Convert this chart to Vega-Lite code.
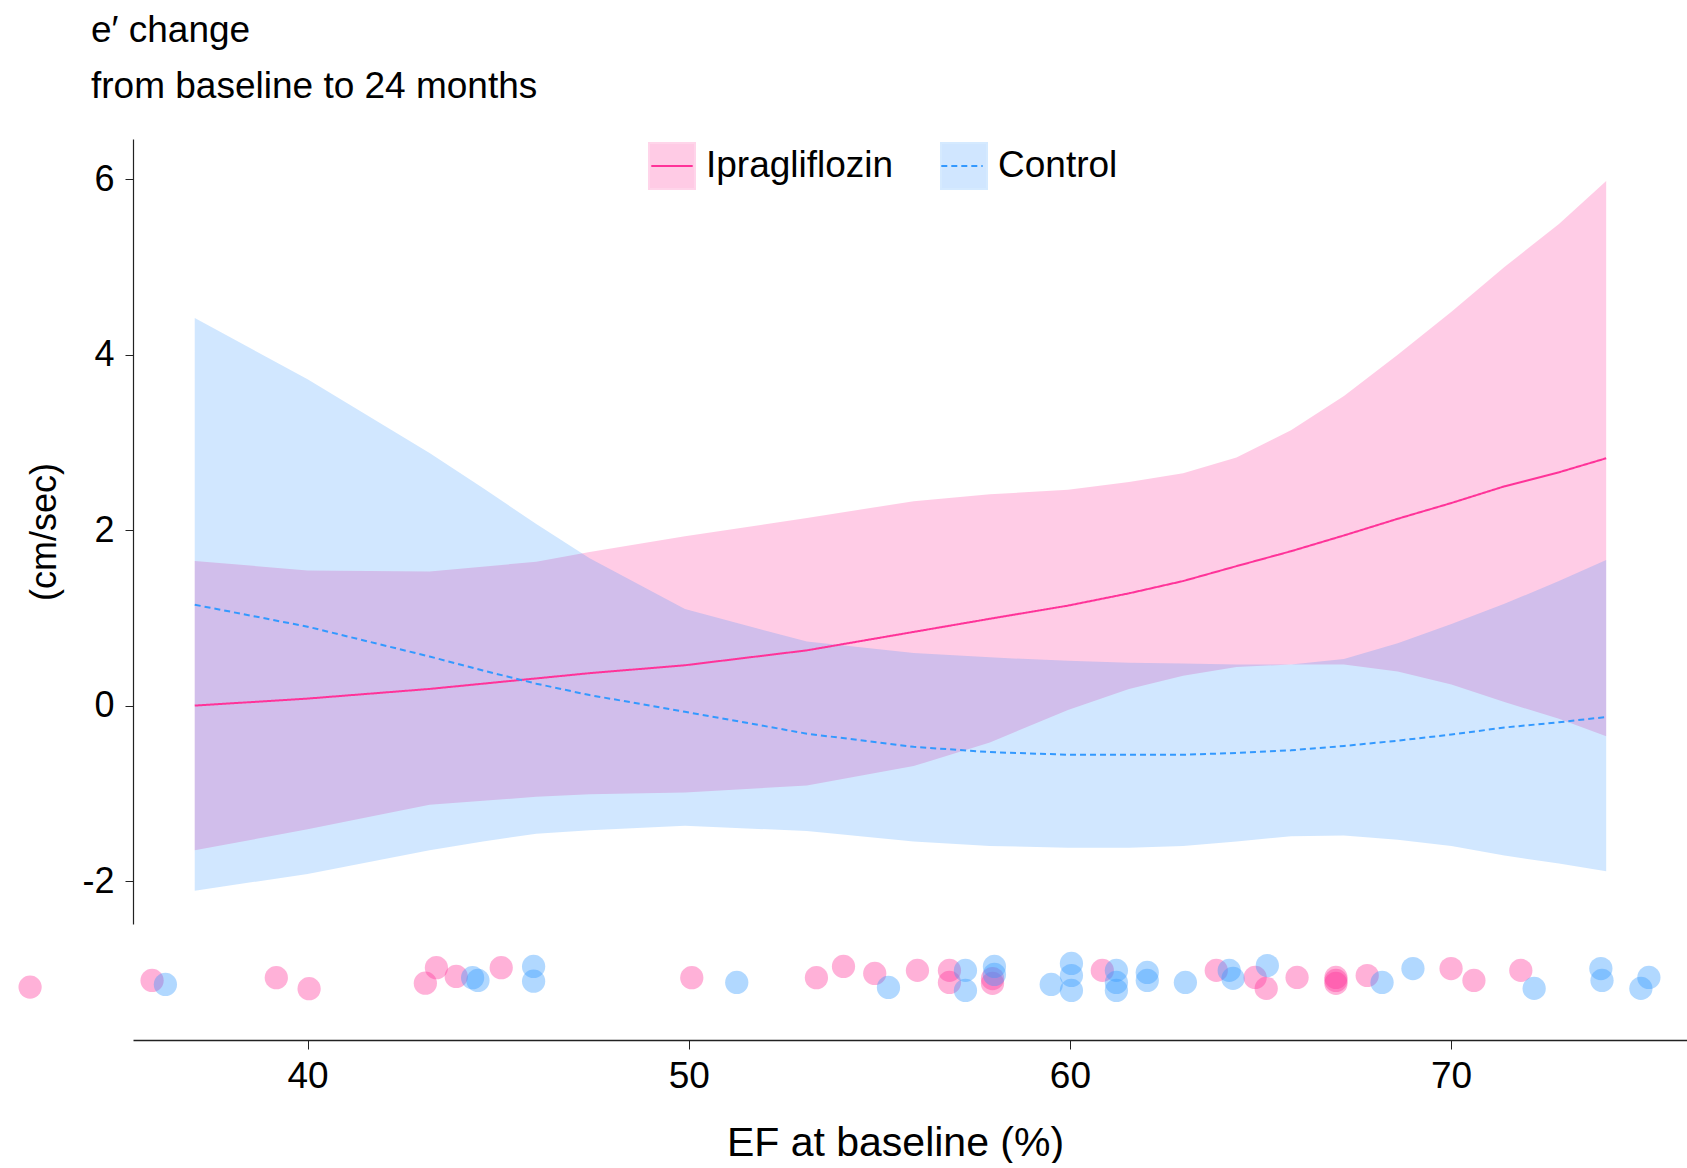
{
  "$schema": "https://vega.github.io/schema/vega-lite/v6.json",
  "padding": {"left": 18, "top": 12, "right": 0, "bottom": 0},
  "config": {
    "font": "Liberation Sans",
    "view": {"stroke": null},
    "axis": {"grid": false, "labelColor": "black", "titleColor": "black", "domainColor": "#222", "tickColor": "#222", "titleFontWeight": "normal", "labelFont": "Liberation Sans", "titleFont": "Liberation Sans"}
  },
  "title": {
    "text": ["e′ change", "from baseline to 24 months"],
    "anchor": "start", "frame": "group", "dx": -42,
    "fontSize": 37, "fontWeight": "normal", "font": "Liberation Sans",
    "lineHeight": 56, "offset": 33, "color": "black"
  },
  "datasets": {
    "curves": [
      {"group": "Ipragliflozin", "ef": 37.04, "fit": 0.0, "lo": -1.65, "hi": 1.65},
      {"group": "Ipragliflozin", "ef": 40.0, "fit": 0.08, "lo": -1.41, "hi": 1.54},
      {"group": "Ipragliflozin", "ef": 43.2, "fit": 0.19, "lo": -1.13, "hi": 1.53},
      {"group": "Ipragliflozin", "ef": 46.0, "fit": 0.31, "lo": -1.04, "hi": 1.64},
      {"group": "Ipragliflozin", "ef": 47.4, "fit": 0.37, "lo": -1.01, "hi": 1.75},
      {"group": "Ipragliflozin", "ef": 49.9, "fit": 0.46, "lo": -0.99, "hi": 1.93},
      {"group": "Ipragliflozin", "ef": 53.1, "fit": 0.63, "lo": -0.91, "hi": 2.14},
      {"group": "Ipragliflozin", "ef": 55.9, "fit": 0.84, "lo": -0.69, "hi": 2.33},
      {"group": "Ipragliflozin", "ef": 57.9, "fit": 0.99, "lo": -0.42, "hi": 2.41},
      {"group": "Ipragliflozin", "ef": 59.95, "fit": 1.14, "lo": -0.05, "hi": 2.46},
      {"group": "Ipragliflozin", "ef": 61.55, "fit": 1.28, "lo": 0.19, "hi": 2.55},
      {"group": "Ipragliflozin", "ef": 62.97, "fit": 1.42, "lo": 0.34, "hi": 2.65},
      {"group": "Ipragliflozin", "ef": 64.37, "fit": 1.59, "lo": 0.44, "hi": 2.83},
      {"group": "Ipragliflozin", "ef": 65.8, "fit": 1.76, "lo": 0.47, "hi": 3.14},
      {"group": "Ipragliflozin", "ef": 67.19, "fit": 1.94, "lo": 0.47, "hi": 3.53},
      {"group": "Ipragliflozin", "ef": 68.6, "fit": 2.13, "lo": 0.39, "hi": 4.0},
      {"group": "Ipragliflozin", "ef": 70.01, "fit": 2.31, "lo": 0.24, "hi": 4.49},
      {"group": "Ipragliflozin", "ef": 71.4, "fit": 2.5, "lo": 0.04, "hi": 5.0},
      {"group": "Ipragliflozin", "ef": 72.83, "fit": 2.66, "lo": -0.15, "hi": 5.49},
      {"group": "Ipragliflozin", "ef": 74.07, "fit": 2.82, "lo": -0.35, "hi": 5.98},
      {"group": "Control", "ef": 37.04, "fit": 1.15, "lo": -2.11, "hi": 4.42},
      {"group": "Control", "ef": 40.0, "fit": 0.9, "lo": -1.92, "hi": 3.72},
      {"group": "Control", "ef": 43.2, "fit": 0.56, "lo": -1.65, "hi": 2.88},
      {"group": "Control", "ef": 44.6, "fit": 0.4, "lo": -1.55, "hi": 2.48},
      {"group": "Control", "ef": 46.0, "fit": 0.25, "lo": -1.46, "hi": 2.07},
      {"group": "Control", "ef": 47.4, "fit": 0.12, "lo": -1.42, "hi": 1.68},
      {"group": "Control", "ef": 49.9, "fit": -0.07, "lo": -1.37, "hi": 1.1},
      {"group": "Control", "ef": 53.1, "fit": -0.32, "lo": -1.43, "hi": 0.73},
      {"group": "Control", "ef": 55.9, "fit": -0.47, "lo": -1.55, "hi": 0.6},
      {"group": "Control", "ef": 57.9, "fit": -0.53, "lo": -1.6, "hi": 0.55},
      {"group": "Control", "ef": 59.95, "fit": -0.56, "lo": -1.62, "hi": 0.51},
      {"group": "Control", "ef": 61.55, "fit": -0.56, "lo": -1.62, "hi": 0.49},
      {"group": "Control", "ef": 62.97, "fit": -0.56, "lo": -1.6, "hi": 0.48},
      {"group": "Control", "ef": 64.37, "fit": -0.54, "lo": -1.55, "hi": 0.47},
      {"group": "Control", "ef": 65.8, "fit": -0.51, "lo": -1.49, "hi": 0.47},
      {"group": "Control", "ef": 67.19, "fit": -0.46, "lo": -1.48, "hi": 0.53},
      {"group": "Control", "ef": 68.6, "fit": -0.4, "lo": -1.53, "hi": 0.71},
      {"group": "Control", "ef": 70.01, "fit": -0.33, "lo": -1.6, "hi": 0.93},
      {"group": "Control", "ef": 71.4, "fit": -0.25, "lo": -1.71, "hi": 1.16},
      {"group": "Control", "ef": 72.83, "fit": -0.19, "lo": -1.8, "hi": 1.42},
      {"group": "Control", "ef": 74.07, "fit": -0.13, "lo": -1.89, "hi": 1.66}
    ],
    "pts": [
      {"group": "Ipragliflozin", "ef": 32.72, "v": 0.456},
      {"group": "Ipragliflozin", "ef": 35.92, "v": 0.513},
      {"group": "Ipragliflozin", "ef": 39.18, "v": 0.537},
      {"group": "Ipragliflozin", "ef": 40.04, "v": 0.442},
      {"group": "Ipragliflozin", "ef": 43.09, "v": 0.49},
      {"group": "Ipragliflozin", "ef": 43.38, "v": 0.623},
      {"group": "Ipragliflozin", "ef": 43.9, "v": 0.548},
      {"group": "Ipragliflozin", "ef": 45.08, "v": 0.623},
      {"group": "Ipragliflozin", "ef": 50.08, "v": 0.537},
      {"group": "Ipragliflozin", "ef": 53.35, "v": 0.537},
      {"group": "Ipragliflozin", "ef": 54.06, "v": 0.634},
      {"group": "Ipragliflozin", "ef": 54.88, "v": 0.574},
      {"group": "Ipragliflozin", "ef": 56.0, "v": 0.6},
      {"group": "Ipragliflozin", "ef": 56.84, "v": 0.6},
      {"group": "Ipragliflozin", "ef": 56.84, "v": 0.496},
      {"group": "Ipragliflozin", "ef": 57.97, "v": 0.488},
      {"group": "Ipragliflozin", "ef": 57.97, "v": 0.53},
      {"group": "Ipragliflozin", "ef": 60.85, "v": 0.6},
      {"group": "Ipragliflozin", "ef": 63.84, "v": 0.6},
      {"group": "Ipragliflozin", "ef": 64.86, "v": 0.539},
      {"group": "Ipragliflozin", "ef": 65.15, "v": 0.445},
      {"group": "Ipragliflozin", "ef": 65.96, "v": 0.539},
      {"group": "Ipragliflozin", "ef": 66.98, "v": 0.539},
      {"group": "Ipragliflozin", "ef": 66.98, "v": 0.488},
      {"group": "Ipragliflozin", "ef": 66.98, "v": 0.513},
      {"group": "Ipragliflozin", "ef": 67.8, "v": 0.556},
      {"group": "Ipragliflozin", "ef": 70.0, "v": 0.616},
      {"group": "Ipragliflozin", "ef": 70.6, "v": 0.513},
      {"group": "Ipragliflozin", "ef": 71.83, "v": 0.6},
      {"group": "Control", "ef": 36.27, "v": 0.479},
      {"group": "Control", "ef": 44.33, "v": 0.537},
      {"group": "Control", "ef": 44.47, "v": 0.513},
      {"group": "Control", "ef": 45.93, "v": 0.634},
      {"group": "Control", "ef": 45.93, "v": 0.507},
      {"group": "Control", "ef": 51.26, "v": 0.496},
      {"group": "Control", "ef": 55.24, "v": 0.453},
      {"group": "Control", "ef": 57.26, "v": 0.6},
      {"group": "Control", "ef": 57.26, "v": 0.427},
      {"group": "Control", "ef": 58.02, "v": 0.634},
      {"group": "Control", "ef": 58.02, "v": 0.565},
      {"group": "Control", "ef": 59.51, "v": 0.479},
      {"group": "Control", "ef": 60.04, "v": 0.66},
      {"group": "Control", "ef": 60.04, "v": 0.556},
      {"group": "Control", "ef": 60.04, "v": 0.427},
      {"group": "Control", "ef": 61.22, "v": 0.6},
      {"group": "Control", "ef": 61.22, "v": 0.496},
      {"group": "Control", "ef": 61.22, "v": 0.427},
      {"group": "Control", "ef": 62.03, "v": 0.582},
      {"group": "Control", "ef": 62.03, "v": 0.513},
      {"group": "Control", "ef": 63.03, "v": 0.496},
      {"group": "Control", "ef": 64.18, "v": 0.6},
      {"group": "Control", "ef": 64.28, "v": 0.531},
      {"group": "Control", "ef": 65.18, "v": 0.642},
      {"group": "Control", "ef": 68.19, "v": 0.496},
      {"group": "Control", "ef": 69.0, "v": 0.616},
      {"group": "Control", "ef": 72.18, "v": 0.445},
      {"group": "Control", "ef": 73.93, "v": 0.616},
      {"group": "Control", "ef": 73.96, "v": 0.513},
      {"group": "Control", "ef": 74.98, "v": 0.445},
      {"group": "Control", "ef": 75.19, "v": 0.539}
    ]
  },
  "spacing": 0,
  "resolve": {"legend": {"fill": "independent", "stroke": "independent", "strokeDash": "independent", "color": "independent"}},
  "vconcat": [
    {
      "width": 1554,
      "height": 785,
      "data": {"name": "curves"},
      "encoding": {
        "x": {"field": "ef", "type": "quantitative", "scale": {"domain": [35.42, 76.19], "nice": false, "zero": false}, "axis": null}
      },
      "layer": [
        {
          "mark": {"type": "area", "opacity": 0.2},
          "encoding": {
            "y": {"field": "lo", "type": "quantitative", "scale": {"domain": [-2.49, 6.46], "nice": false, "zero": false},
              "axis": {"values": [-2, 0, 2, 4, 6], "labelExpr": "datum.value", "labelFontSize": 36, "labelPadding": 11, "tickSize": 8, "title": "(cm/sec)", "titleFontSize": 36, "titleX": -78, "titleBaseline": "alphabetic", "domainWidth": 1.2}},
            "y2": {"field": "hi"},
            "fill": {"field": "group", "type": "nominal",
              "scale": {"domain": ["Ipragliflozin", "Control"], "range": ["#FF0080", "#1A88FF"]},
              "legend": {"orient": "none", "legendX": 515, "legendY": 3, "direction": "horizontal", "title": null, "symbolType": "square", "symbolSize": 2116, "symbolStrokeWidth": 2, "symbolStrokeColor": "transparent", "labelFontSize": 37, "labelLimit": 0, "labelOffset": 10, "columnPadding": 43, "padding": 0, "labelColor": "black", "labelFont": "Liberation Sans"}}
          }
        },
        {
          "mark": {"type": "line", "strokeWidth": 2},
          "encoding": {
            "y": {"field": "fit", "type": "quantitative"},
            "stroke": {"field": "group", "type": "nominal",
              "scale": {"domain": ["Ipragliflozin", "Control"], "range": ["#FF3399", "#3399FF"]},
              "legend": null},
            "strokeDash": {"field": "group", "type": "nominal", "sort": ["Ipragliflozin", "Control"],
              "scale": {"range": [[1, 0], [6, 4]]},
              "legend": {"orient": "none", "legendX": 515, "legendY": 3, "direction": "horizontal", "title": null, "symbolType": "M-0.9,0H0.9", "symbolSize": 2116, "symbolStrokeWidth": 2, "labelFontSize": 37, "labelLimit": 0, "labelOffset": 10, "columnPadding": 43, "padding": 0, "labelOpacity": 0, "labelFont": "Liberation Sans",
                "encode": {"symbols": {"update": {"stroke": {"signal": "datum.value === 'Control' ? '#3399FF' : '#FF3399'"}, "strokeWidth": {"value": 2}, "opacity": {"value": 1}}}}}}
          }
        }
      ]
    },
    {
      "width": 1554,
      "height": 116,
      "data": {"name": "pts"},
      "mark": {"type": "circle", "size": 540, "opacity": 0.38, "clip": false},
      "encoding": {
        "x": {"field": "ef", "type": "quantitative", "scale": {"domain": [35.42, 76.19], "nice": false, "zero": false},
          "axis": {"values": [40, 50, 60, 70], "labelFontSize": 37, "labelPadding": 9, "tickSize": 9, "title": "EF at baseline (%)", "titleFontSize": 41, "titlePadding": 29, "titleX": 762, "domainWidth": 1.5}},
        "y": {"field": "v", "type": "quantitative", "scale": {"domain": [0, 1], "nice": false, "zero": false}, "axis": null},
        "color": {"field": "group", "type": "nominal", "scale": {"domain": ["Ipragliflozin", "Control"], "range": ["#FF3399", "#3399FF"]}, "legend": null}
      }
    }
  ]
}
